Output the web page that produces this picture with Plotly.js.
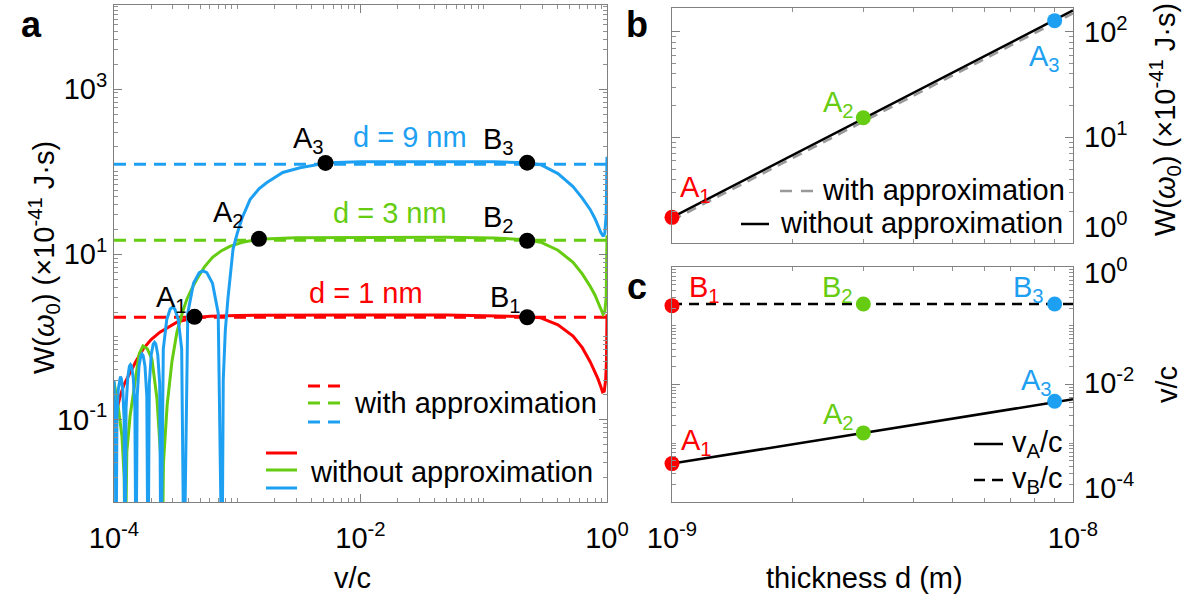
<!DOCTYPE html>
<html><head><meta charset="utf-8">
<script src="https://cdn.plot.ly/plotly-3.0.1.min.js"></script>
<style>html,body{margin:0;padding:0;background:#fff;}#chart{width:1195px;height:603px;}</style>
</head><body><div id="chart"></div>
<script>
// ---------------- Panel a data ----------------
const vRed = [1.0e-4, 1.03e-4, 1.06e-4, 1.12e-4, 1.2e-4, 1.35e-4, 1.5e-4, 1.72e-4, 2.0e-4, 2.36e-4, 2.8e-4, 3.24e-4, 4.37e-4, 6.0e-4, 1.0e-3, 3e-3, 0.01, 0.05, 0.15, 0.22, 0.29, 0.40, 0.53, 0.63, 0.73, 0.80, 0.845, 0.89, 0.92, 0.95, 0.975, 0.99, 1.0];
const wRed = [0.093, 0.115, 0.14, 0.19, 0.26, 0.37, 0.5, 0.71, 0.93, 1.14, 1.34, 1.51, 1.69, 1.78, 1.82, 1.84, 1.84, 1.84, 1.80, 1.76, 1.70, 1.40, 1.02, 0.74, 0.50, 0.38, 0.31, 0.25, 0.215, 0.22, 0.30, 0.5, 1.88];

const vGreen = [1.0e-4, 1.04e-4, 1.08e-4, 1.16e-4, 1.21e-4, 1.23e-4, 1.27e-4, 1.35e-4, 1.48e-4, 1.60e-4, 1.72e-4, 1.86e-4, 2.03e-4, 2.23e-4, 2.38e-4, 2.45e-4, 2.52e-4, 2.70e-4, 2.95e-4, 3.24e-4, 3.6e-4, 3.9e-4, 4.3e-4, 4.7e-4, 5.4e-4, 6.3e-4, 7.4e-4, 8.7e-4, 1.1e-3, 1.48e-3, 3e-3, 0.01, 0.05, 0.12, 0.22, 0.29, 0.40, 0.53, 0.63, 0.73, 0.80, 0.845, 0.89, 0.93, 0.96, 0.985, 1.0];
const wGreen = [0.284, 0.2, 0.146, 0.063, 0.02, 0.001, 0.04, 0.11, 0.28, 0.62, 0.775, 0.72, 0.54, 0.18, 0.04, 0.001, 0.03, 0.15, 0.5, 1.14, 2.0, 2.86, 3.9, 5.0, 7.0, 9.2, 11.0, 12.5, 14.0, 15.2, 15.9, 16.1, 16.1, 15.8, 15.0, 14.0, 11.2, 8.0, 5.8, 4.1, 3.2, 2.63, 2.2, 1.88, 2.0, 3.0, 17];

const vBlue = [1.0e-4, 1.01e-4, 1.025e-4, 1.038e-4,
  1.0556e-4, 1.0826e-4, 1.110e-4, 1.129e-4, 1.148e-4, 1.178e-4, 1.208e-4, 1.228e-4,
  1.253e-4, 1.293e-4, 1.333e-4, 1.361e-4, 1.389e-4, 1.433e-4, 1.477e-4, 1.508e-4,
  1.542e-4, 1.595e-4, 1.650e-4, 1.687e-4, 1.726e-4, 1.785e-4, 1.846e-4, 1.888e-4,
  1.934e-4, 2.005e-4, 2.080e-4, 2.131e-4, 2.183e-4, 2.265e-4, 2.349e-4, 2.405e-4,
  2.512e-4, 2.679e-4, 2.858e-4, 2.983e-4, 3.114e-4, 3.321e-4, 3.541e-4, 3.698e-4,
  3.97e-4, 4.416e-4, 4.912e-4, 5.274e-4, 5.661e-4, 6.298e-4, 7.005e-4, 7.52e-4,
  7.7e-4, 8.0e-4, 8.4e-4, 8.8e-4, 9.24e-4, 1.0e-3, 1.1e-3, 1.27e-3, 1.5e-3, 1.74e-3, 2.34e-3, 3.23e-3, 5.5e-3,
  0.01, 0.05, 0.12, 0.22, 0.29, 0.40, 0.53, 0.63, 0.73, 0.80, 0.845, 0.89, 0.93, 0.96, 0.985, 1.0];
const wBlue = [0.30, 0.2, 0.08, 0.001,
  0.10, 0.23, 0.31, 0.33, 0.31, 0.23, 0.10, 0.001,
  0.14, 0.32, 0.44, 0.46, 0.44, 0.32, 0.14, 0.001,
  0.19, 0.44, 0.59, 0.62, 0.59, 0.44, 0.19, 0.001,
  0.27, 0.61, 0.82, 0.86, 0.82, 0.61, 0.27, 0.001,
  0.71, 1.62, 2.18, 2.29, 2.18, 1.62, 0.71, 0.001,
  1.95, 4.45, 6.0, 6.3, 6.0, 4.45, 1.95, 0.001,
  0.3, 1.2, 2.9, 6.0, 11.5, 18, 28, 46, 62, 74, 98, 112, 129,
  132, 133, 132, 129, 122, 95, 66, 48, 35, 27, 21.8, 18.5, 16.5, 18, 30, 152];

const vApprox = [1e-4, 1];
const wApproxRed = [1.73, 1.73];
const wApproxGreen = [14.8, 14.8];
const wApproxBlue = [123, 123];

// characteristic points A_i (onset) and B_i (end of plateau)
const vA = [4.5e-4, 1.5e-3, 5.2e-3];
const wA = [1.75, 15.4, 128];
const vB = [0.225, 0.225, 0.225];
const wB = [1.73, 14.6, 129];

// ---------------- Panels b, c data ----------------
const thickness = [1e-9, 3e-9, 9e-9];
const dLine = [1e-9, 1e-8];
const wExactLine = [1.75, 160];
const wApproxLine = [1.64, 150];
const vALine = [4.5e-4, 5.6e-3];
const vBLine = [0.235, 0.235];
const vBPanelC = [0.22, 0.235, 0.235];

// tick labels
const aXTickVals = [1e-4, 1e-2, 1];
const aXTickText = ['10<sup>-4</sup>', '10<sup>-2</sup>', '10<sup>0</sup>'];
const aYTickVals = [0.1, 10, 1000];
const aYTickText = ['10<sup>-1</sup>', '10<sup>1</sup>', '10<sup>3</sup>'];
const bYTickVals = [1, 10, 100];
const bYTickText = ['10<sup>0</sup>', '10<sup>1</sup>', '10<sup>2</sup>'];
const cYTickVals = [1e-4, 1e-2, 1];
const cYTickText = ['10<sup>-4</sup>', '10<sup>-2</sup>', '10<sup>0</sup>'];
const cXTickVals = [1e-9, 1e-8];
const cXTickText = ['10<sup>-9</sup>', '10<sup>-8</sup>'];

// ---------------- styling ----------------
const RED = '#ff0000', GREEN = '#66cc11', BLUE = '#1ea0f2';
const COLS = [RED, GREEN, BLUE];
const FONT = 'Liberation Sans, Arial, Helvetica, sans-serif';
const FS = 29;
const W = 1195, H = 603;
const PX = x => x / W, PY = y => 1 - y / H;
const LW = 3;
const DASH = '12px,8px';

const traces = [];
[[wApproxRed, RED], [wApproxGreen, GREEN], [wApproxBlue, BLUE]].forEach(([w, c]) => {
  traces.push({x: vApprox, y: w, xaxis: 'x', yaxis: 'y', mode: 'lines', line: {color: c, width: LW, dash: DASH}, hoverinfo: 'skip'});
});
[[vRed, wRed, RED], [vGreen, wGreen, GREEN], [vBlue, wBlue, BLUE]].forEach(([v, w, c]) => {
  traces.push({x: v, y: w, xaxis: 'x', yaxis: 'y', mode: 'lines', line: {color: c, width: LW}, hoverinfo: 'skip'});
});
traces.push({x: vA.concat(vB), y: wA.concat(wB), xaxis: 'x', yaxis: 'y', mode: 'markers', marker: {color: '#000', size: 16}, cliponaxis: false});

// panel b
traces.push({x: dLine, y: wApproxLine, xaxis: 'x2', yaxis: 'y2', mode: 'lines', line: {color: '#999999', width: 2.5, dash: '10px,7px'}});
traces.push({x: dLine, y: wExactLine, xaxis: 'x2', yaxis: 'y2', mode: 'lines', line: {color: '#000', width: 2.5}});
traces.push({x: thickness, y: wA, xaxis: 'x2', yaxis: 'y2', mode: 'markers', marker: {color: COLS, size: 15}, cliponaxis: false});

// panel c
traces.push({x: dLine, y: vBLine, xaxis: 'x3', yaxis: 'y3', mode: 'lines', line: {color: '#000', width: 2.5, dash: '10px,7px'}});
traces.push({x: dLine, y: vALine, xaxis: 'x3', yaxis: 'y3', mode: 'lines', line: {color: '#000', width: 2.5}});
traces.push({x: thickness, y: vBPanelC, xaxis: 'x3', yaxis: 'y3', mode: 'markers', marker: {color: COLS, size: 15}, cliponaxis: false});
traces.push({x: thickness, y: vA, xaxis: 'x3', yaxis: 'y3', mode: 'markers', marker: {color: COLS, size: 15}, cliponaxis: false});

const AX = {
  type: 'log', showgrid: false, zeroline: false, showline: true, linecolor: '#808080', linewidth: 1,
  mirror: 'allticks', ticks: 'inside', ticklen: 8, tickcolor: '#808080', tickwidth: 1,
  tickmode: 'array', tickfont: {family: FONT, size: FS, color: '#000'},
  minor: {ticks: 'inside', ticklen: 4, tickcolor: '#909090', tickwidth: 1, tickmode: 'linear', dtick: 'D1'}
};
const ax = o => Object.assign({}, AX, o);

const layout = {
  width: W, height: H, margin: {l: 0, r: 0, t: 0, b: 0}, showlegend: false,
  paper_bgcolor: '#fff', plot_bgcolor: '#fff', font: {family: FONT, size: FS, color: '#000'},
  xaxis: ax({domain: [PX(114), PX(607)], range: [-4, 0], anchor: 'y', tickvals: aXTickVals, ticktext: aXTickText, ticklabelstandoff: 10}),
  yaxis: ax({domain: [PY(502), PY(5)], range: [-2, 4.02], anchor: 'x', tickvals: aYTickVals, ticktext: aYTickText}),
  xaxis2: ax({domain: [PX(672), PX(1073)], range: [-9, -8], anchor: 'y2', tickvals: cXTickVals, ticktext: cXTickText, showticklabels: false}),
  yaxis2: ax({domain: [PY(243), PY(8)], range: [0, 2.227], anchor: 'x2', side: 'right', tickvals: bYTickVals, showticklabels: false}),
  xaxis3: ax({domain: [PX(672), PX(1073)], range: [-9, -8], anchor: 'y3', tickvals: cXTickVals, ticktext: cXTickText, ticklabelstandoff: 10}),
  yaxis3: ax({domain: [PY(502), PY(267)], range: [-4, 0], anchor: 'x3', side: 'right', tickvals: cYTickVals, showticklabels: false}),
  annotations: [],
  shapes: []
};

function txt(x, y, text, color, opts) {
  layout.annotations.push(Object.assign({xref: 'paper', yref: 'paper', x: PX(x), y: PY(y), text: text, showarrow: false,
    xanchor: 'center', yanchor: 'middle', font: {family: FONT, size: FS, color: color || '#000'}}, opts || {}));
}
function seg(x0, x1, y, color, dash, w) {
  layout.shapes.push({type: 'line', xref: 'paper', yref: 'paper', x0: PX(x0), x1: PX(x1), y0: PY(y), y1: PY(y),
    line: {color: color, width: w || LW, dash: dash || 'solid'}});
}

// right-hand tick labels of panels b and c (nudged apart where they meet, as in the figure)
const bShift = [18, 2, 2], cShift = [16, 4, -4];
bYTickVals.forEach((v, i) => layout.annotations.push({xref: 'paper', yref: 'y2', x: PX(1082), y: Math.log10(v), yshift: bShift[i],
  text: bYTickText[i], showarrow: false, xanchor: 'left', yanchor: 'middle', font: {family: FONT, size: FS, color: '#000'}}));
cYTickVals.forEach((v, i) => layout.annotations.push({xref: 'paper', yref: 'y3', x: PX(1082), y: Math.log10(v), yshift: cShift[i],
  text: cYTickText[i], showarrow: false, xanchor: 'left', yanchor: 'middle', font: {family: FONT, size: FS, color: '#000'}}));

// panel letters
txt(31, 24, '<b>a</b>', '#000', {font: {family: FONT, size: 36, color: '#000'}});
txt(637, 24, '<b>b</b>', '#000', {font: {family: FONT, size: 36, color: '#000'}});
txt(637, 286, '<b>c</b>', '#000', {font: {family: FONT, size: 36, color: '#000'}});

// axis titles
txt(44, 258, 'W(<i>ω</i><sub>0</sub>) (×10<sup>-41</sup> J·s)', '#000', {textangle: -90});
txt(352, 578, 'v/c');
txt(864, 578, 'thickness d (m)');
txt(1165, 120, 'W(<i>ω</i><sub>0</sub>) (×10<sup>-41</sup> J·s)', '#000', {textangle: -90});
txt(1167, 385, 'v/c', '#000', {textangle: -90});

// panel a labels
txt(308, 140, 'A<sub>3</sub>'); txt(410, 137, 'd = 9 nm', BLUE); txt(498, 141, 'B<sub>3</sub>');
txt(228, 214, 'A<sub>2</sub>'); txt(390, 213, 'd = 3 nm', GREEN); txt(498, 219, 'B<sub>2</sub>');
txt(171, 299, 'A<sub>1</sub>'); txt(366, 293, 'd = 1 nm', RED); txt(505, 299, 'B<sub>1</sub>');

// panel a legend
seg(308, 340, 386, RED, DASH); seg(308, 340, 403, GREEN, DASH); seg(308, 340, 422, BLUE, DASH);
txt(352, 403, 'with approximation', '#000', {xanchor: 'left'});
seg(266, 297, 453, RED); seg(266, 297, 470, GREEN); seg(266, 297, 488, BLUE);
txt(308, 472, 'without approximation', '#000', {xanchor: 'left'});

// panel b labels + legend
txt(695, 189, 'A<sub>1</sub>', RED); txt(838, 104, 'A<sub>2</sub>', GREEN); txt(1044, 58, 'A<sub>3</sub>', BLUE);
seg(780, 813, 191, '#999999', '12px,9px', 2.5);
txt(820, 190, 'with approximation', '#000', {xanchor: 'left'});
seg(741, 769, 224, '#000', 'solid', 2.5);
txt(778, 223, 'without approximation', '#000', {xanchor: 'left'});

// panel c labels + legend
txt(704, 289, 'B<sub>1</sub>', RED); txt(837, 289, 'B<sub>2</sub>', GREEN); txt(1028, 289, 'B<sub>3</sub>', BLUE);
txt(696, 442, 'A<sub>1</sub>', RED); txt(838, 416, 'A<sub>2</sub>', GREEN); txt(1036, 382, 'A<sub>3</sub>', BLUE);
seg(974, 1003, 444, '#000', 'solid', 2.5);
txt(1010, 444, 'v<sub>A</sub>/c', '#000', {xanchor: 'left'});
seg(974, 1003, 480, '#000', '11px,7px', 2.5);
txt(1010, 480, 'v<sub>B</sub>/c', '#000', {xanchor: 'left'});

Plotly.newPlot('chart', traces, layout, {staticPlot: true, displayModeBar: false});
</script></body></html>
